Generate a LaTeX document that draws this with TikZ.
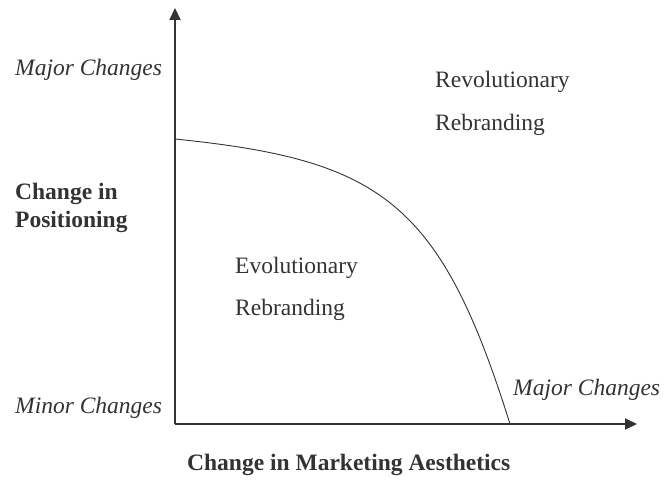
\documentclass[tikz,border=0pt]{standalone}
\usepackage{fontspec}
\setmainfont{Liberation Serif}
\usetikzlibrary{arrows.meta}
\definecolor{ink}{HTML}{333333}
\begin{document}
\begin{tikzpicture}[x=1pt,y=-1pt,
  lbl/.style={anchor=base west,inner sep=0pt,text=ink,font=\fontsize{23.5}{28}\selectfont},
  axis/.style={draw=ink,line width=2pt,-{Triangle[length=12pt,width=11pt]}},
  bound/.style={draw=ink,line width=0.9pt}]
\useasboundingbox (0,0) rectangle (666,486);
\coordinate (O) at (175,424);
\coordinate (ytop) at (175,8);
\coordinate (xend) at (637,424);
\coordinate (c0) at (175,139);
\coordinate (c1) at (510,424);
\draw[axis] (O) -- (ytop);
\draw[axis] (O) -- (xend);
\draw[bound] (c0) .. controls (380,160) and (440,200) .. (c1);
\node[lbl] (ymaj) at (15,76) {\itshape Major Changes};
\node[lbl] (ymin) at (15,413) {\itshape Minor Changes};
\node[lbl] (xmaj) at (513,395) {\itshape Major Changes};
\node[lbl] (ytitle1) at (15,200) {\bfseries Change in};
\node[lbl] (ytitle2) at (15,228) {\bfseries Positioning};
\node[lbl] (xtitle) at (187,470) {\bfseries Change in Marketing Aesthetics};
\node[lbl] (rev1) at (435,88) {Revolutionary};
\node[lbl] (rev2) at (435,131) {Rebranding};
\node[lbl] (evo1) at (235,273) {Evolutionary};
\node[lbl] (evo2) at (235,315) {Rebranding};
\end{tikzpicture}
\end{document}
